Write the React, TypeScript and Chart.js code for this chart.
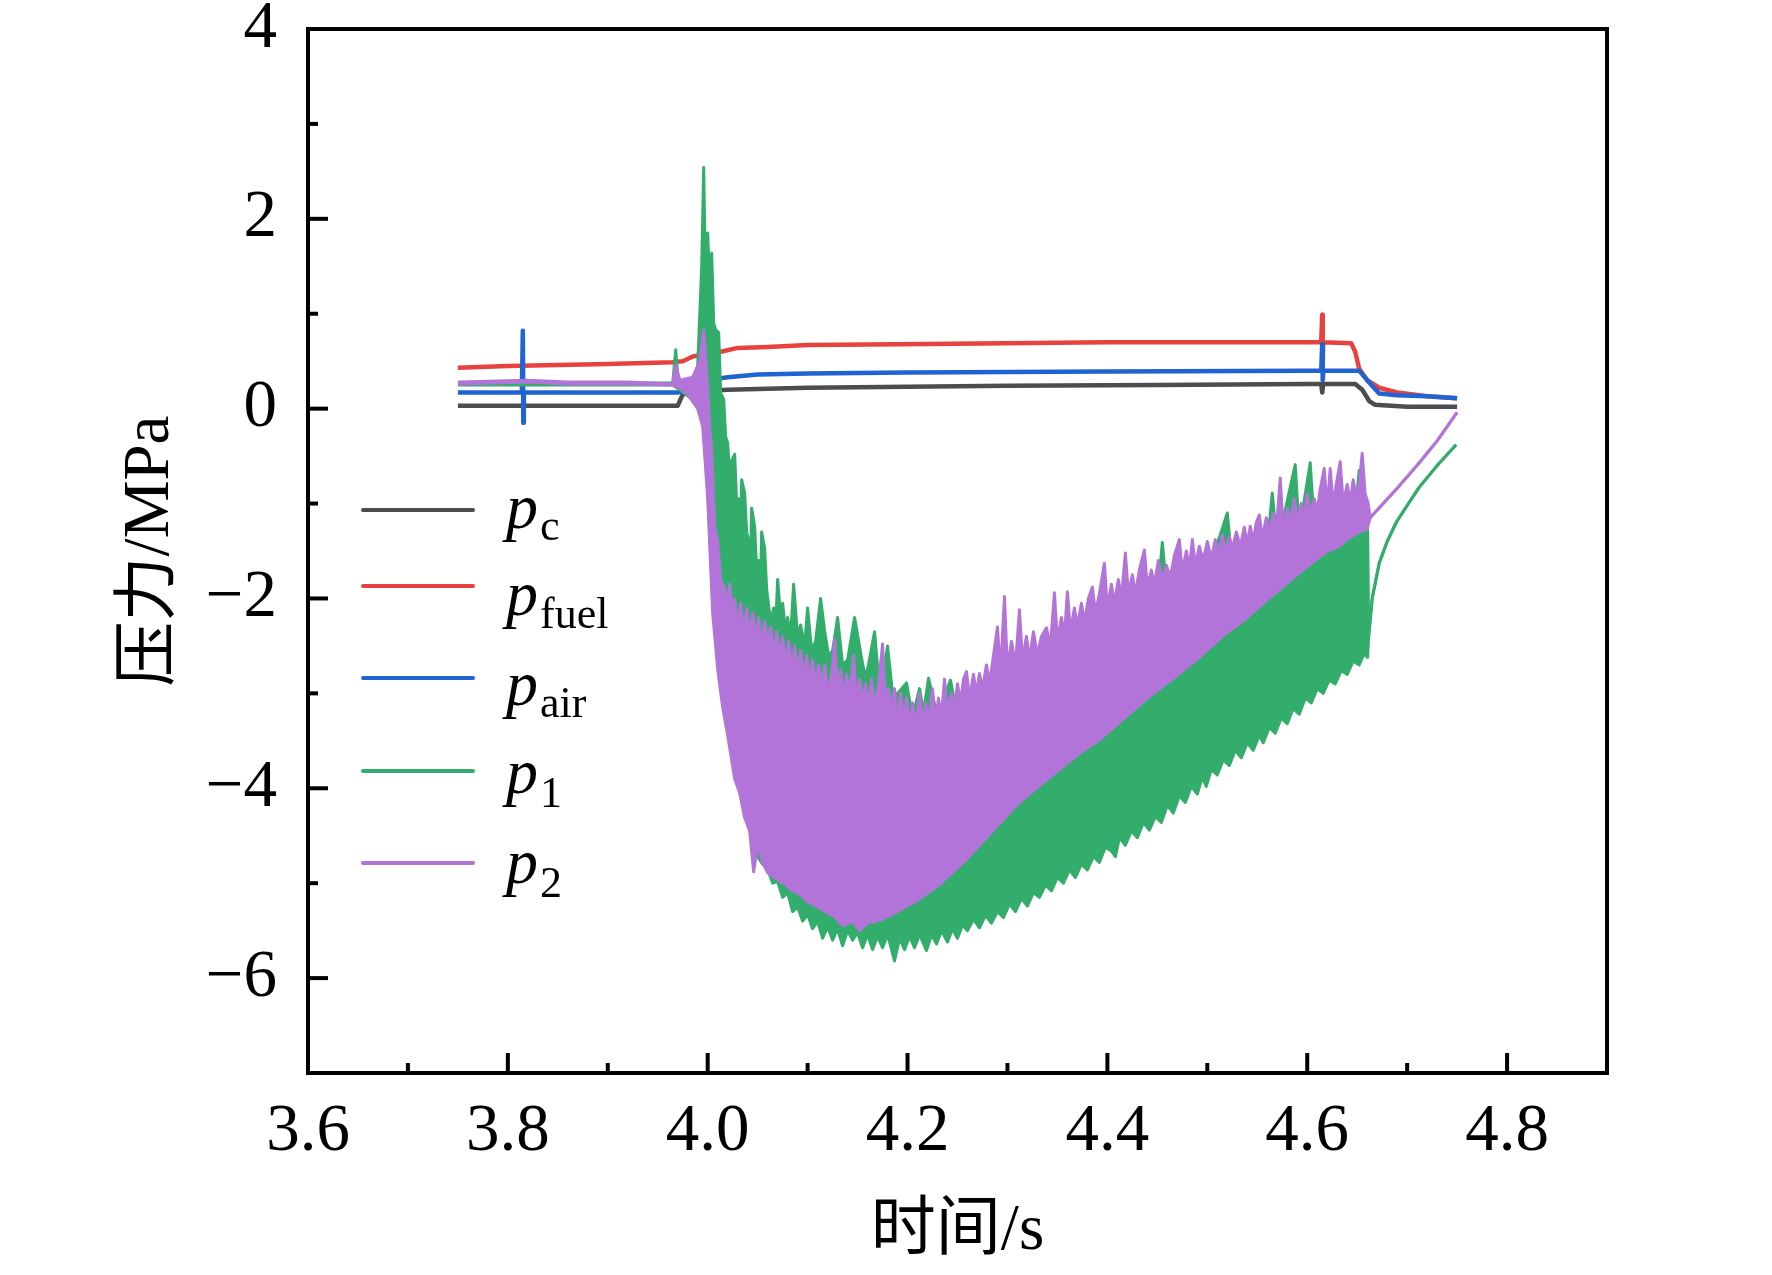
import { useEffect, useRef } from "react";
import Chart from "chart.js/auto";

type Pt = [number, number];

// axis ranges (s, MPa)
const timeRange: Pt = [3.6, 4.9];
const pressureRange: Pt = [-7, 4];

// steady pressures [time, MPa]
const pC: Pt[] = [
  [3.75, 0.03], [3.9, 0.03], [3.97, 0.03], [3.975, 0.15], [3.99, 0.18], [4.02, 0.2],
  [4.1, 0.22], [4.2, 0.23], [4.3, 0.24], [4.45, 0.25], [4.6, 0.26], [4.614, 0.26],
  [4.615, 0.17], [4.616, 0.26], [4.648, 0.26], [4.655, 0.2], [4.662, 0.08],
  [4.668, 0.04], [4.7, 0.02], [4.75, 0.02],
];

const pFuel: Pt[] = [
  [3.75, 0.43], [3.8, 0.45], [3.9, 0.47], [3.965, 0.49], [3.975, 0.5], [3.985, 0.55],
  [4.0, 0.58], [4.013, 0.6], [4.03, 0.64], [4.06, 0.65], [4.1, 0.67], [4.22, 0.68],
  [4.4, 0.7], [4.55, 0.7], [4.614, 0.7], [4.615, 0.99], [4.6155, 0.45], [4.616, 0.7],
  [4.644, 0.69], [4.648, 0.6], [4.652, 0.42], [4.66, 0.3], [4.672, 0.22], [4.69, 0.17],
  [4.72, 0.13], [4.75, 0.11],
];

const pAir: Pt[] = [
  [3.75, 0.17], [3.814, 0.17], [3.815, 0.82], [3.8155, -0.15], [3.816, 0.17],
  [3.97, 0.17], [3.98, 0.2], [4.0, 0.3], [4.02, 0.33], [4.05, 0.36], [4.1, 0.37],
  [4.2, 0.38], [4.4, 0.39], [4.6, 0.4], [4.614, 0.4], [4.615, 0.68], [4.6155, 0.3],
  [4.616, 0.4], [4.652, 0.4], [4.66, 0.3], [4.672, 0.16], [4.69, 0.14], [4.72, 0.13],
  [4.75, 0.11],
];

// p1: envelope of the oscillating signal, upper and lower edge
const p1Upper: Pt[] = [
  [3.75, 0.27], [3.965, 0.27], [3.968, 0.62], [3.971, 0.22], [3.985, 0.27], [3.99, 0.45],
  [3.994, 1.5], [3.996, 2.54], [3.998, 1.2], [4.0, 1.85], [4.002, 1.3], [4.004, 1.64],
  [4.006, 0.9], [4.008, 0.83], [4.011, 0.8], [4.013, 0.16], [4.016, 0.1], [4.018, -0.3],
  [4.02, -0.36], [4.022, -0.7], [4.024, -0.55], [4.027, -0.48], [4.029, -1.0],
  [4.031, -0.95], [4.033, -1.2], [4.034, -0.75], [4.037, -0.89], [4.039, -1.3],
  [4.041, -1.4], [4.043, -1.5], [4.044, -1.05], [4.047, -1.24], [4.049, -1.7],
  [4.051, -1.6], [4.053, -1.8], [4.054, -1.3], [4.057, -1.47], [4.059, -1.9],
  [4.06, -1.99], [4.063, -2.25], [4.066, -2.1], [4.068, -2.3], [4.07, -1.8],
  [4.073, -2.2], [4.075, -2.05], [4.078, -2.35], [4.08, -2.2], [4.083, -2.4],
  [4.086, -1.85], [4.09, -2.4], [4.093, -2.28], [4.097, -2.5], [4.1, -2.1],
  [4.104, -2.55], [4.108, -2.45], [4.113, -2.0], [4.117, -2.34], [4.121, -2.6],
  [4.125, -2.55], [4.13, -2.2], [4.135, -2.7], [4.14, -2.65], [4.147, -2.2],
  [4.153, -2.57], [4.157, -2.8], [4.16, -2.75], [4.167, -2.35], [4.171, -2.85],
  [4.175, -2.85], [4.18, -2.5], [4.185, -3.0], [4.19, -3.0], [4.199, -2.89],
  [4.205, -3.25], [4.212, -2.95], [4.216, -3.2], [4.221, -2.84], [4.23, -3.25],
  [4.243, -2.86], [4.25, -3.25], [4.3, -2.95], [4.35, -2.6], [4.4, -2.3], [4.45, -2.0],
  [4.455, -1.41], [4.46, -2.0], [4.5, -1.75], [4.52, -1.1], [4.525, -1.65], [4.56, -1.45],
  [4.565, -0.89], [4.57, -1.45], [4.588, -0.59], [4.592, -1.3], [4.603, -0.57],
  [4.607, -1.25], [4.63, -1.15], [4.648, -1.1], [4.652, -0.65], [4.655, -1.1],
  [4.66, -1.28], [4.6605, -1.3], [4.6615, -2.4], [4.665, -2.0], [4.672, -1.63],
  [4.68, -1.4], [4.689, -1.2], [4.7, -1.02], [4.712, -0.83], [4.73, -0.6], [4.749, -0.38],
];

const p1Lower: Pt[] = [
  [3.75, 0.25], [3.965, 0.25], [3.972, 0.2], [3.99, 0.05], [3.995, -0.1], [4.0, -0.85],
  [4.005, -2.0], [4.01, -2.6], [4.015, -3.0], [4.02, -3.35], [4.027, -3.8], [4.037, -4.25],
  [4.05, -4.72], [4.055, -4.8], [4.06, -4.85], [4.065, -5.0], [4.07, -4.98],
  [4.075, -5.15], [4.08, -5.1], [4.085, -5.3], [4.09, -5.25], [4.095, -5.4],
  [4.1, -5.33], [4.105, -5.48], [4.11, -5.4], [4.115, -5.58], [4.12, -5.46],
  [4.125, -5.6], [4.13, -5.48], [4.135, -5.66], [4.14, -5.5], [4.145, -5.6],
  [4.15, -5.52], [4.155, -5.68], [4.16, -5.54], [4.165, -5.7], [4.17, -5.56],
  [4.175, -5.68], [4.18, -5.54], [4.187, -5.82], [4.192, -5.58], [4.197, -5.7],
  [4.202, -5.56], [4.207, -5.68], [4.212, -5.54], [4.219, -5.71], [4.224, -5.54],
  [4.229, -5.64], [4.234, -5.5], [4.24, -5.62], [4.245, -5.48], [4.25, -5.58],
  [4.255, -5.44], [4.26, -5.5], [4.266, -5.38], [4.272, -5.47], [4.278, -5.34],
  [4.284, -5.42], [4.29, -5.3], [4.296, -5.36], [4.302, -5.22], [4.308, -5.3],
  [4.314, -5.16], [4.32, -5.24], [4.326, -5.1], [4.332, -5.15], [4.338, -5.02],
  [4.344, -5.08], [4.35, -4.94], [4.356, -5.0], [4.362, -4.86], [4.368, -4.94],
  [4.374, -4.8], [4.38, -4.86], [4.386, -4.72], [4.392, -4.78], [4.398, -4.62],
  [4.404, -4.66], [4.408, -4.72], [4.412, -4.52], [4.418, -4.6], [4.424, -4.45],
  [4.43, -4.52], [4.436, -4.36], [4.442, -4.44], [4.448, -4.3], [4.454, -4.36],
  [4.46, -4.18], [4.466, -4.26], [4.472, -4.08], [4.478, -4.15], [4.484, -3.98],
  [4.49, -4.06], [4.495, -3.88], [4.499, -3.98], [4.504, -3.8], [4.51, -3.86],
  [4.516, -3.7], [4.522, -3.76], [4.528, -3.6], [4.534, -3.68], [4.54, -3.52],
  [4.546, -3.6], [4.552, -3.44], [4.556, -3.52], [4.562, -3.36], [4.568, -3.42],
  [4.574, -3.26], [4.58, -3.32], [4.586, -3.16], [4.592, -3.22], [4.598, -3.05],
  [4.604, -3.1], [4.61, -2.95], [4.616, -3.0], [4.622, -2.86], [4.628, -2.9],
  [4.634, -2.76], [4.64, -2.8], [4.646, -2.66], [4.652, -2.7], [4.657, -2.58],
  [4.66, -2.62], [4.6605, -2.6], [4.6615, -2.4], [4.665, -2.0], [4.672, -1.63],
  [4.68, -1.4], [4.689, -1.2], [4.7, -1.02], [4.712, -0.83], [4.73, -0.6], [4.749, -0.38],
];

// p2: envelope of the oscillating signal, upper and lower edge
const p2Upper: Pt[] = [
  [3.75, 0.28], [3.79, 0.29], [3.82, 0.3], [3.86, 0.28], [3.92, 0.28], [3.965, 0.26],
  [3.968, 0.46], [3.972, 0.3], [3.985, 0.33], [3.992, 0.5], [3.996, 0.83], [3.999, 0.4],
  [4.002, -0.2], [4.004, -0.42], [4.007, -1.24], [4.01, -1.4], [4.013, -1.81],
  [4.017, -1.9], [4.02, -2.1], [4.022, -1.85], [4.025, -2.25], [4.027, -2.0],
  [4.03, -2.3], [4.033, -2.05], [4.036, -2.38], [4.039, -2.1], [4.042, -2.4],
  [4.045, -2.15], [4.048, -2.45], [4.051, -2.2], [4.054, -2.5], [4.057, -2.25],
  [4.06, -2.52], [4.063, -2.3], [4.066, -2.58], [4.069, -2.35], [4.072, -2.65],
  [4.075, -2.4], [4.078, -2.7], [4.081, -2.45], [4.084, -2.75], [4.087, -2.5],
  [4.09, -2.8], [4.093, -2.55], [4.096, -2.85], [4.099, -2.6], [4.102, -2.88],
  [4.105, -2.65], [4.108, -2.9], [4.111, -2.7], [4.114, -2.95], [4.117, -2.7],
  [4.12, -3.0], [4.124, -2.8], [4.127, -2.43], [4.13, -3.0], [4.133, -2.75],
  [4.136, -3.05], [4.139, -2.8], [4.142, -3.05], [4.146, -2.6], [4.149, -3.1],
  [4.152, -2.85], [4.155, -3.1], [4.158, -2.9], [4.161, -3.15], [4.164, -2.85],
  [4.167, -3.15], [4.171, -2.9], [4.175, -2.48], [4.178, -3.15], [4.181, -2.95],
  [4.184, -3.2], [4.187, -2.95], [4.19, -3.3], [4.193, -3.0], [4.196, -3.3],
  [4.199, -3.05], [4.202, -3.35], [4.205, -3.1], [4.208, -3.35], [4.212, -3.0],
  [4.215, -3.35], [4.218, -3.1], [4.221, -3.3], [4.225, -2.95], [4.228, -3.3],
  [4.231, -3.05], [4.234, -3.25], [4.237, -2.85], [4.24, -3.2], [4.244, -3.0],
  [4.247, -3.15], [4.25, -2.9], [4.253, -3.1], [4.256, -2.85], [4.259, -2.77],
  [4.262, -3.05], [4.266, -2.8], [4.269, -3.0], [4.272, -2.79], [4.275, -2.95],
  [4.279, -2.7], [4.282, -2.9], [4.286, -2.6], [4.29, -2.3], [4.293, -2.8],
  [4.297, -1.98], [4.3, -2.75], [4.304, -2.45], [4.308, -2.7], [4.312, -2.12],
  [4.315, -2.65], [4.319, -2.4], [4.322, -2.65], [4.326, -2.35], [4.33, -2.6],
  [4.334, -2.4], [4.339, -2.31], [4.343, -2.5], [4.347, -1.94], [4.35, -2.45],
  [4.354, -2.2], [4.357, -2.4], [4.36, -1.93], [4.363, -2.35], [4.367, -2.1],
  [4.37, -2.3], [4.374, -2.05], [4.377, -2.25], [4.381, -2.0], [4.385, -1.88],
  [4.388, -2.15], [4.392, -1.95], [4.397, -1.63], [4.4, -2.1], [4.404, -1.85],
  [4.407, -2.05], [4.411, -1.8], [4.414, -2.0], [4.418, -1.52], [4.421, -1.95],
  [4.425, -1.75], [4.428, -1.95], [4.432, -1.7], [4.437, -1.49], [4.44, -1.88],
  [4.444, -1.7], [4.447, -1.85], [4.451, -1.6], [4.455, -1.82], [4.459, -1.65],
  [4.463, -1.78], [4.467, -1.55], [4.472, -1.38], [4.475, -1.72], [4.479, -1.5],
  [4.482, -1.68], [4.485, -1.38], [4.488, -1.65], [4.492, -1.45], [4.496, -1.6],
  [4.5, -1.4], [4.504, -1.58], [4.508, -1.38], [4.511, -1.55], [4.515, -1.33],
  [4.518, -1.52], [4.522, -1.35], [4.525, -1.48], [4.529, -1.3], [4.533, -1.45],
  [4.537, -1.25], [4.54, -1.42], [4.543, -1.24], [4.546, -1.4], [4.549, -1.2],
  [4.552, -1.12], [4.555, -1.36], [4.559, -1.15], [4.562, -1.32], [4.566, -1.1],
  [4.569, -1.3], [4.573, -0.73], [4.576, -1.27], [4.58, -1.05], [4.583, -1.22],
  [4.587, -0.95], [4.59, -1.18], [4.594, -1.0], [4.597, -1.15], [4.6, -0.9],
  [4.603, -1.12], [4.607, -0.95], [4.61, -1.08], [4.613, -0.85], [4.617, -0.63],
  [4.62, -1.05], [4.623, -0.63], [4.626, -1.02], [4.629, -0.8], [4.633, -0.56],
  [4.636, -1.0], [4.64, -0.8], [4.643, -0.98], [4.646, -0.75], [4.649, -0.95],
  [4.652, -0.8], [4.655, -0.47], [4.658, -0.9], [4.661, -1.0], [4.663, -1.15],
  [4.69, -0.84], [4.713, -0.56], [4.73, -0.34], [4.75, -0.04],
];

const p2Lower: Pt[] = [
  [3.75, 0.26], [3.79, 0.27], [3.82, 0.28], [3.86, 0.26], [3.92, 0.26], [3.965, 0.25],
  [3.972, 0.22], [3.98, 0.15], [3.99, 0.0], [3.995, -0.19], [4.0, -0.94], [4.005, -2.16],
  [4.01, -2.74], [4.015, -3.15], [4.02, -3.44], [4.027, -3.9], [4.032, -4.05],
  [4.037, -4.31], [4.042, -4.45], [4.046, -4.88], [4.05, -4.6], [4.055, -4.78],
  [4.06, -4.89], [4.068, -4.95], [4.076, -5.0], [4.085, -5.08], [4.093, -5.12],
  [4.1, -5.2], [4.11, -5.25], [4.118, -5.3], [4.127, -5.35], [4.135, -5.45],
  [4.145, -5.4], [4.152, -5.5], [4.16, -5.42], [4.168, -5.4], [4.175, -5.38],
  [4.185, -5.33], [4.193, -5.28], [4.21, -5.18], [4.23, -5.03], [4.259, -4.75],
  [4.285, -4.45], [4.309, -4.18], [4.33, -3.99], [4.35, -3.82], [4.37, -3.65],
  [4.392, -3.49], [4.415, -3.28], [4.44, -3.05], [4.465, -2.85], [4.492, -2.62],
  [4.515, -2.4], [4.54, -2.2], [4.565, -1.97], [4.592, -1.73], [4.62, -1.5],
  [4.632, -1.45], [4.642, -1.36], [4.652, -1.3], [4.66, -1.27], [4.663, -1.15],
  [4.69, -0.84], [4.713, -0.56], [4.73, -0.34], [4.75, -0.04],
];

const seriesNames = ["c", "fuel", "air", "1", "2"];
const seriesColors = ["#4d4d4d", "#e8423f", "#1f64d2", "#33ad6b", "#b374da"];

const SERIF = '"Liberation Serif", "Times New Roman", "Noto Sans CJK SC", serif';

const toXY = (pts: Pt[]) => pts.map(([x, y]) => ({ x, y }));
const minus = (s: string) => s.replace("-", "\u2212");

// closed frame with inward ticks (Origin style)
const framePlugin = {
  id: "frame",
  afterDatasetsDraw(chart: Chart) {
    const { ctx, chartArea: a } = chart;
    const xs = chart.scales.x;
    const ys = chart.scales.y;
    ctx.save();
    ctx.strokeStyle = "#000";
    ctx.lineWidth = 4;
    ctx.strokeRect(a.left, a.top, a.right - a.left, a.bottom - a.top);
    xs.ticks.forEach((t) => {
      const px = xs.getPixelForValue(t.value);
      const len = Math.round(t.value * 10) % 2 === 0 ? 20 : 10;
      ctx.beginPath();
      ctx.moveTo(px, a.bottom);
      ctx.lineTo(px, a.bottom - len);
      ctx.stroke();
    });
    ys.ticks.forEach((t) => {
      const py = ys.getPixelForValue(t.value);
      const len = Math.round(t.value) % 2 === 0 ? 20 : 10;
      ctx.beginPath();
      ctx.moveTo(a.left, py);
      ctx.lineTo(a.left + len, py);
      ctx.stroke();
    });
    ctx.restore();
  },
};

// legend with italic p and subscripts
const legendRows = [
  { lineY: 510, base: 528, subBase: 540 },
  { lineY: 586, base: 615, subBase: 628 },
  { lineY: 678, base: 705, subBase: 717 },
  { lineY: 771, base: 793, subBase: 807 },
  { lineY: 863, base: 883, subBase: 897 },
];

const legendPlugin = {
  id: "subLegend",
  afterDraw(chart: Chart) {
    const { ctx } = chart;
    ctx.save();
    legendRows.forEach((row, i) => {
      ctx.strokeStyle = seriesColors[i];
      ctx.lineWidth = 4;
      ctx.lineCap = "round";
      ctx.beginPath();
      ctx.moveTo(363, row.lineY);
      ctx.lineTo(473, row.lineY);
      ctx.stroke();
      ctx.fillStyle = "#000";
      ctx.textBaseline = "alphabetic";
      ctx.textAlign = "left";
      ctx.font = `italic 64px ${SERIF}`;
      ctx.fillText("p", 506, row.base);
      ctx.font = `44px ${SERIF}`;
      ctx.fillText(seriesNames[i], 540, row.subBase);
    });
    ctx.restore();
  },
};

const lineSet = (pts: Pt[], color: string, order: number) => ({
  data: toXY(pts),
  borderColor: color,
  backgroundColor: color,
  borderWidth: 4.5,
  pointRadius: 0,
  tension: 0,
  fill: false,
  order,
  borderJoinStyle: "round" as const,
});

const bandEdge = (pts: Pt[], color: string, order: number, fill: string | boolean) => ({
  data: toXY(pts),
  borderColor: color,
  backgroundColor: color,
  borderWidth: 3,
  pointRadius: 0,
  tension: 0,
  fill,
  order,
  borderJoinStyle: "round" as const,
});

const App = () => {
  const canvasRef = useRef<HTMLCanvasElement>(null);
  const chartRef = useRef<Chart>();

  useEffect(() => {
    if (!canvasRef.current) return;
    if (chartRef.current) chartRef.current.destroy();

    chartRef.current = new Chart(canvasRef.current, {
      type: "line",
      data: {
        datasets: [
          lineSet(pC, seriesColors[0], 10),
          lineSet(pFuel, seriesColors[1], 9),
          lineSet(pAir, seriesColors[2], 8),
          bandEdge(p1Lower, seriesColors[3], 7, false),
          bandEdge(p1Upper, seriesColors[3], 6, "-1"),
          bandEdge(p2Lower, seriesColors[4], 5, false),
          bandEdge(p2Upper, seriesColors[4], 4, "-1"),
        ] as any,
      },
      options: {
        animation: false,
        responsive: true,
        maintainAspectRatio: false,
        devicePixelRatio: 1,
        layout: { padding: { top: 29, right: 165, bottom: 0, left: 0 } },
        plugins: {
          legend: { display: false },
          tooltip: { enabled: false },
        },
        scales: {
          x: {
            type: "linear",
            min: timeRange[0],
            max: timeRange[1],
            grid: { display: false, drawTicks: false },
            border: { display: false },
            ticks: {
              stepSize: 0.1,
              autoSkip: false,
              maxRotation: 0,
              padding: 19,
              color: "#000",
              font: { family: SERIF, size: 67 },
              callback: (v) => {
                const k = Math.round(Number(v) * 10);
                return k % 2 === 0 ? (k / 10).toFixed(1) : "";
              },
            },
            title: {
              display: true,
              text: "时间/s",
              color: "#000",
              font: { family: SERIF, size: 65, lineHeight: 1 },
              padding: { top: 0, bottom: 11 },
            },
            afterFit: (s: any) => {
              s.height = 202;
              s.paddingLeft = 0;
              s.paddingRight = 0;
            },
          },
          y: {
            min: pressureRange[0],
            max: pressureRange[1],
            grid: { display: false, drawTicks: false },
            border: { display: false },
            ticks: {
              stepSize: 1,
              autoSkip: false,
              padding: 31,
              color: "#000",
              font: { family: SERIF, size: 67 },
              callback: (v) => {
                const k = Math.round(Number(v));
                return k % 2 === 0 ? minus(String(k)) : "";
              },
            },
            title: {
              display: true,
              text: "压力/MPa",
              color: "#000",
              font: { family: SERIF, size: 65, lineHeight: 1 },
              padding: { top: 118, bottom: 0 },
            },
            afterFit: (s: any) => {
              s.width = 308;
              s.paddingTop = 0;
              s.paddingBottom = 0;
            },
          },
        },
      },
      plugins: [framePlugin, legendPlugin],
    });

    return () => {
      if (chartRef.current) {
        chartRef.current.destroy();
        chartRef.current = undefined;
      }
    };
  }, []);

  return (
    <div
      style={{
        position: "absolute",
        left: 0,
        top: 0,
        width: 1772,
        height: 1275,
        background: "#fff",
      }}
    >
      <canvas ref={canvasRef} />
    </div>
  );
};

export default App;
